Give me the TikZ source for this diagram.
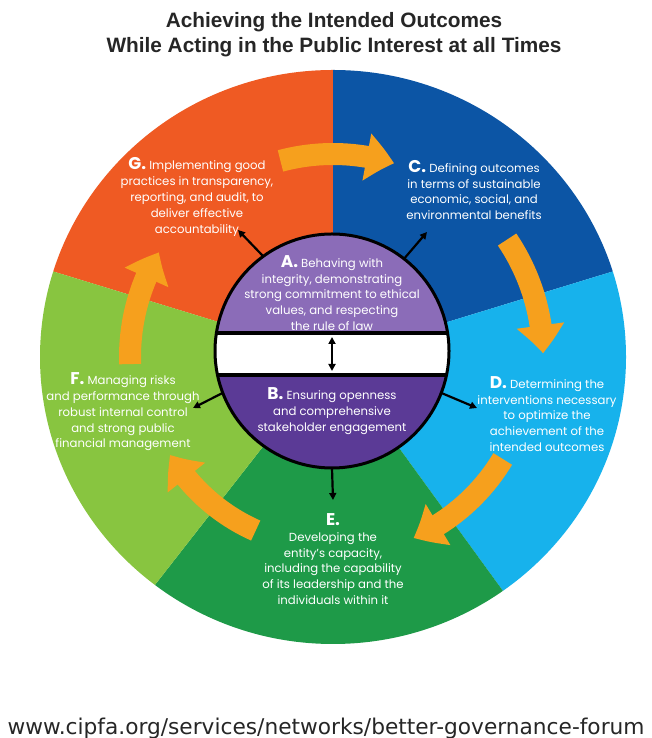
\documentclass[tikz,border=0pt]{standalone}
\usepackage{fontspec}
\setmainfont{Poppins}
\newfontfamily\titlefont{Liberation Sans}
\newfontfamily\urlfont{DejaVu Sans}
\usetikzlibrary{arrows.meta,calc,bending}
\definecolor{cOrange}{HTML}{EF5A23}
\definecolor{cBlue}{HTML}{0C55A5}
\definecolor{cSky}{HTML}{17B2EC}
\definecolor{cGreen}{HTML}{1E9A48}
\definecolor{cLime}{HTML}{88C540}
\definecolor{cPurpL}{HTML}{8B6CB8}
\definecolor{cPurpD}{HTML}{5B3A96}
\definecolor{cArrow}{HTML}{F6A01D}
\definecolor{cTitle}{HTML}{262626}
\newcommand\seglet[1]{{\fontsize{17}{17}\selectfont\bfseries #1}}
\begin{document}
\begin{tikzpicture}[x=1pt,y=1pt,
  segtext/.style={text=white, align=center, inner sep=0pt,
    font=\fontsize{11.7}{15.8}\selectfont},
  oarrow/.style={draw=cArrow, line width=22pt, -{Triangle[length=28pt,width=46pt,bend]}},
  barrow/.style={draw=black, line width=2.2pt, -{Triangle[length=7pt,width=7pt]}},
  darrow/.style={draw=black, line width=2.2pt, {Triangle[length=7pt,width=7pt]}-{Triangle[length=7pt,width=7pt]}},
  titletext/.style={text=cTitle, inner sep=0pt, anchor=base, font=\titlefont\bfseries\fontsize{20.8}{25}\selectfont}]
\useasboundingbox (0,0) rectangle (652,738);
\fill[white] (0,0) rectangle (652,738);
\coordinate (O) at (333,381);
% sectors
\begin{scope}
  \clip (O) ellipse [x radius=293, y radius=287];
  \fill[cOrange] (O) -- ($(O)+(90:600)$) -- ($(O)+(126:600)$) -- ($(O)+(163:600)$) -- cycle;
  \fill[cBlue]   (O) -- ($(O)+(17:600)$) -- ($(O)+(54:600)$) -- ($(O)+(90:600)$) -- cycle;
  \fill[cSky]    (O) -- ($(O)+(-54:600)$) -- ($(O)+(-18:600)$) -- ($(O)+(17:600)$) -- cycle;
  \fill[cGreen]  (O) -- ($(O)+(232:600)$) -- ($(O)+(270:600)$) -- ($(O)+(306:600)$) -- cycle;
  \fill[cLime]   (O) -- ($(O)+(163:600)$) -- ($(O)+(198:600)$) -- ($(O)+(232:600)$) -- cycle;
\end{scope}
% orange cycle arrows
\draw[oarrow] ($(O)+(105:203)$) arc[start angle=105, end angle=72.5, radius=203];
\draw[oarrow] ($(O)+(34:210)$) arc[start angle=34, end angle=1, radius=210];
\draw[oarrow] ($(O)+(-31:198)$) arc[start angle=-31, end angle=-66, radius=198];
\draw[oarrow] ($(O)+(246:190)$) arc[start angle=246, end angle=211, radius=190];
\draw[oarrow] ($(O)+(182:203)$) arc[start angle=182, end angle=149, radius=203];
% core circle
\node[circle, minimum size=234pt, inner sep=0pt] (core) at (332,387) {};
\coordinate (bandT) at (332,405);
\coordinate (bandB) at (332,363);
\begin{scope}
  \clip (core.center) circle [radius=117];
  \fill[cPurpL] (215,405) rectangle (449,505);
  \fill[white] (215,363) rectangle (449,405);
  \fill[cPurpD] (215,270) rectangle (449,363);
  \draw[line width=3.5pt] (215,405) -- (449,405);
  \draw[line width=3.5pt] (215,363) -- (449,363);
\end{scope}
\draw[line width=3pt] (core.center) circle [radius=117];
\draw[darrow] ($(bandT)+(0,-4)$) -- ($(bandB)+(0,4)$);
% black arrows to sectors
\coordinate (gEnd) at (238,508);
\coordinate (cEnd) at (427,506);
\coordinate (fEnd) at (193,330);
\coordinate (dEnd) at (477,330);
\coordinate (eEnd) at (333,238);
\draw[barrow] (core.126) -- (gEnd);
\draw[barrow] (core.52) -- (cEnd);
\draw[barrow] (core.201) -- (fEnd);
\draw[barrow] (core.339) -- (dEnd);
\draw[barrow] (core.270) -- (eEnd);
% texts
\node[segtext] (tG) at (197,541) {\seglet{G.} Implementing good\\practices in transparency,\\reporting, and audit, to\\deliver effective\\accountability};
\node[segtext] (tC) at (474,548) {\seglet{C.} Defining outcomes\\in terms of sustainable\\economic, social, and\\environmental benefits};
\node[segtext] (tD) at (547,324) {\seglet{D.} Determining the\\interventions necessary\\to optimize the\\achievement of the\\intended outcomes};
\node[segtext] (tE) at (333,179) {\seglet{E.}\\Developing the\\entity's capacity,\\including the capability\\of its leadership and the\\individuals within it};
\node[segtext] (tF) at (123,326) {\seglet{F.} Managing risks\\and performance through\\robust internal control\\and strong public\\financial management};
\node[segtext] (tA) at (332,445) {\seglet{A.} Behaving with\\integrity, demonstrating\\strong commitment to ethical\\values, and respecting\\the rule of law};
\node[segtext] (tB) at (332,327) {\seglet{B.} Ensuring openness\\and comprehensive\\stakeholder engagement};
% title and footer
\node[titletext] (title1) at (334,710) {Achieving the Intended Outcomes};
\node[titletext] (title2) at (334,685) {While Acting in the Public Interest at all Times};
\node[text=cTitle, inner sep=0pt, anchor=base, font=\urlfont\fontsize{21.7}{21.7}\selectfont] (url) at (326,4) {www.cipfa.org/services/networks/better-governance-forum};
\end{tikzpicture}
\end{document}
